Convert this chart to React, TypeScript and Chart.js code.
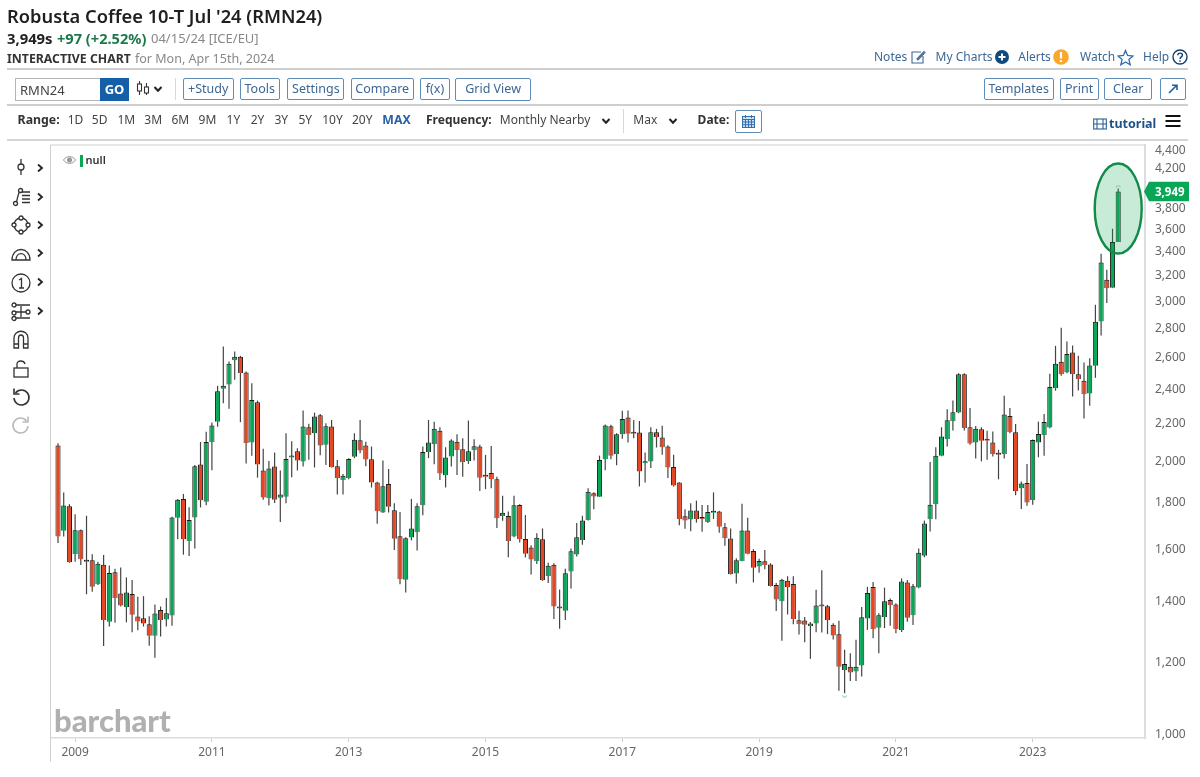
import React, { useEffect, useRef } from 'react';
import { Chart, registerables } from 'chart.js';

Chart.register(...registerables);

// monthly candles, Oct 2008 .. Apr 2024
const opens = [
  2073, 1670, 1778, 1575, 1672, 1551, 1550, 1458, 1532, 1326,
  1503, 1425, 1376, 1423, 1344, 1338, 1318, 1280, 1366, 1334,
  1347, 1726, 1811, 1627, 1728, 1976, 1798, 2092, 2203, 2394,
  2421, 2575, 2597, 2495, 2090, 2314, 1946, 1814, 1966, 1816,
  1821, 2011, 2043, 1991, 2172, 2139, 2239, 2078, 2176, 1967,
  1900, 1908, 2015, 2102, 2073, 2003, 1888, 1749, 1881, 1760,
  1647, 1475, 1642, 1664, 1782, 2040, 2080, 2152, 1923, 2016,
  2094, 2054, 1994, 2049, 2068, 1920, 1934, 1903, 1734, 1734,
  1646, 1783, 1636, 1601, 1546, 1635, 1489, 1532, 1376, 1364,
  1506, 1573, 1632, 1717, 1837, 1821, 2003, 2178, 2028, 2134,
  2226, 2145, 2143, 1982, 1991, 2145, 2116, 2068, 1964, 1888,
  1733, 1719, 1758, 1724, 1708, 1748, 1754, 1685, 1638, 1499,
  1547, 1671, 1587, 1526, 1546, 1533, 1456, 1397, 1471, 1459,
  1331, 1330, 1311, 1320, 1382, 1379, 1316, 1285, 1173, 1183,
  1169, 1187, 1337, 1448, 1306, 1341, 1401, 1385, 1299, 1465,
  1348, 1446, 1568, 1720, 1787, 2021, 2108, 2205, 2254, 2485,
  2172, 2089, 2161, 2101, 2090, 2030, 2028, 2235, 2144, 1860,
  1885, 1805, 2090, 2130, 2170, 2398, 2564, 2495, 2625, 2485,
  2444, 2366, 2538, 2840, 3157, 3093, 3474,
];
const highs = [
  2085, 1840, 1787, 1742, 1676, 1735, 1574, 1544, 1571, 1529,
  1517, 1522, 1484, 1474, 1413, 1415, 1345, 1385, 1378, 1408,
  1731, 1810, 1834, 1773, 1974, 2092, 2147, 2198, 2413, 2666,
  2566, 2632, 2603, 2501, 2429, 2324, 2056, 1994, 2037, 1946,
  2139, 2096, 2059, 2266, 2191, 2254, 2246, 2194, 2212, 1999,
  1929, 2008, 2139, 2212, 2094, 2068, 1892, 1996, 1954, 1791,
  1752, 1643, 1811, 1791, 2068, 2212, 2203, 2172, 2065, 2107,
  2134, 2112, 2209, 2107, 2077, 2025, 2071, 1916, 1825, 1754,
  1825, 1786, 1738, 1610, 1660, 1680, 1540, 1538, 1439, 1517,
  1597, 1703, 1735, 1861, 1842, 2021, 2187, 2185, 2139, 2264,
  2266, 2212, 2207, 2037, 2172, 2163, 2180, 2075, 2025, 1889,
  1764, 1791, 1803, 1783, 1783, 1841, 1757, 1703, 1680, 1558,
  1789, 1726, 1594, 1556, 1591, 1538, 1463, 1479, 1488, 1488,
  1364, 1342, 1325, 1438, 1511, 1384, 1321, 1329, 1235, 1224,
  1267, 1377, 1449, 1467, 1355, 1446, 1407, 1390, 1480, 1474,
  1459, 1597, 1714, 1989, 2065, 2172, 2274, 2324, 2491, 2491,
  2280, 2179, 2172, 2152, 2148, 2051, 2352, 2280, 2190, 1893,
  1979, 2106, 2203, 2246, 2487, 2670, 2796, 2700, 2672, 2603,
  2559, 2588, 2963, 3372, 3238, 3594, 3979,
];
const lows = [
  1619, 1646, 1540, 1544, 1531, 1422, 1431, 1456, 1247, 1310,
  1323, 1378, 1324, 1291, 1298, 1310, 1248, 1210, 1277, 1310,
  1313, 1635, 1572, 1567, 1597, 1772, 1782, 1947, 2174, 2308,
  2276, 2450, 2200, 1981, 2020, 1911, 1807, 1781, 1792, 1708,
  1791, 1913, 1946, 1966, 2000, 1961, 2023, 1974, 1961, 1831,
  1831, 1903, 2008, 2033, 1967, 1864, 1700, 1747, 1749, 1591,
  1458, 1428, 1630, 1589, 1737, 2008, 1977, 1900, 1864, 1966,
  1924, 1916, 1979, 1996, 1847, 1856, 1861, 1682, 1713, 1562,
  1643, 1621, 1561, 1495, 1535, 1471, 1463, 1335, 1303, 1332,
  1443, 1565, 1612, 1714, 1764, 1820, 1947, 2003, 1972, 2109,
  2089, 2112, 1869, 1888, 1959, 2063, 2025, 1910, 1869, 1694,
  1679, 1668, 1705, 1666, 1703, 1721, 1662, 1608, 1495, 1461,
  1546, 1574, 1465, 1502, 1515, 1450, 1363, 1264, 1351, 1318,
  1284, 1259, 1207, 1291, 1290, 1285, 1268, 1113, 1106, 1141,
  1141, 1154, 1299, 1272, 1224, 1305, 1313, 1288, 1292, 1326,
  1315, 1444, 1562, 1667, 1720, 2018, 2068, 2154, 2250, 2154,
  2078, 2006, 1992, 2000, 2016, 1903, 2006, 2139, 1828, 1765,
  1780, 1784, 2013, 2020, 2166, 2383, 2475, 2491, 2348, 2384,
  2220, 2293, 2462, 2741, 2976, 3091, 3474,
];
const closes = [
  1646, 1781, 1542, 1672, 1554, 1544, 1449, 1536, 1331, 1501,
  1408, 1382, 1428, 1350, 1327, 1320, 1280, 1354, 1331, 1355,
  1727, 1807, 1635, 1717, 1967, 1805, 2092, 2181, 2380, 2413,
  2551, 2597, 2493, 2087, 2328, 1976, 1817, 1956, 1807, 1831,
  2004, 2021, 1996, 2176, 2130, 2232, 2073, 2178, 1962, 1910,
  1920, 2004, 2104, 2047, 2001, 1888, 1755, 1870, 1775, 1637,
  1477, 1639, 1680, 1777, 2040, 2089, 2163, 1932, 2011, 2100,
  2049, 1987, 2043, 2070, 1911, 1915, 1903, 1724, 1748, 1627,
  1782, 1635, 1576, 1553, 1641, 1473, 1528, 1378, 1371, 1500,
  1586, 1643, 1714, 1844, 1822, 1999, 2181, 2021, 2134, 2218,
  2137, 2137, 1941, 1992, 2145, 2118, 2065, 1961, 1873, 1721,
  1714, 1758, 1721, 1721, 1752, 1755, 1687, 1639, 1496, 1550,
  1671, 1576, 1521, 1547, 1531, 1452, 1403, 1475, 1447, 1335,
  1318, 1316, 1320, 1382, 1378, 1331, 1281, 1183, 1191, 1166,
  1183, 1341, 1426, 1302, 1348, 1397, 1383, 1302, 1469, 1340,
  1451, 1580, 1701, 1784, 2021, 2122, 2211, 2256, 2485, 2168,
  2084, 2163, 2099, 2099, 2028, 2026, 2243, 2146, 1846, 1883,
  1794, 2103, 2135, 2201, 2405, 2551, 2485, 2616, 2485, 2454,
  2362, 2540, 2838, 3298, 3091, 3474, 3949,
];

const priceTicks = [1000, 1200, 1400, 1600, 1800, 2000, 2200, 2400, 2600, 2800, 3000, 3200, 3400, 3600, 3800, 4200, 4400];
const yearTickIndexes = [3, 27, 51, 75, 99, 123, 147, 171];
const yearTickLabels = ['2009', '2011', '2013', '2015', '2017', '2019', '2021', '2023'];
const lowestIndex = 138;
const lastIndex = closes.length - 1;

const UP = '#08a657';
const DOWN = '#e34724';
const FONT = '"Noto Sans", sans-serif';
const BLUE = '#3c6794';

// ellipse, price tag and the little high/low hooks
const overlayPlugin = {
  id: 'overlay',
  afterDatasetsDraw(chart: any) {
    const { ctx, scales } = chart;
    const x = scales.x.getPixelForValue(lastIndex);
    const yClose = scales.y.getPixelForValue(closes[lastIndex]);
    ctx.save();
    ctx.beginPath();
    ctx.ellipse(x, yClose + 17, 23.5, 45, 0, 0, Math.PI * 2);
    ctx.fillStyle = 'rgba(20, 170, 85, 0.24)';
    ctx.fill();
    ctx.lineWidth = 2.4;
    ctx.strokeStyle = '#128a48';
    ctx.stroke();

    ctx.lineWidth = 0.8;
    ctx.strokeStyle = '#7fb89a';
    ctx.beginPath();
    ctx.arc(x, scales.y.getPixelForValue(highs[lastIndex]) - 1, 2, Math.PI, 0);
    ctx.stroke();
    ctx.strokeStyle = '#5cc08c';
    ctx.beginPath();
    ctx.arc(scales.x.getPixelForValue(lowestIndex), scales.y.getPixelForValue(lows[lowestIndex]) + 2, 2, 0, Math.PI);
    ctx.stroke();

    // price tag sits on the axis
    ctx.fillStyle = '#0aa658';
    ctx.beginPath();
    ctx.moveTo(1144, yClose);
    ctx.lineTo(1149, yClose - 9.8);
    ctx.lineTo(1189, yClose - 9.8);
    ctx.lineTo(1189, yClose + 9.8);
    ctx.lineTo(1149, yClose + 9.8);
    ctx.closePath();
    ctx.fill();
    ctx.fillStyle = '#fff';
    ctx.font = `bold 11.5px ${FONT}`;
    ctx.textAlign = 'left';
    ctx.textBaseline = 'middle';
    ctx.fillText(closes[lastIndex].toLocaleString('en-US'), 1155, yClose + 1);

    // left border runs on below the x axis
    ctx.strokeStyle = '#cfcfcf';
    ctx.lineWidth = 1;
    ctx.beginPath();
    ctx.moveTo(50.5, 145);
    ctx.lineTo(50.5, 762);
    ctx.moveTo(50.5, 145);
    ctx.lineTo(1145, 145);
    ctx.stroke();
    ctx.restore();
  },
};

const CandleChart = () => {
  const canvasRef = useRef<HTMLCanvasElement>(null);

  useEffect(() => {
    if (!canvasRef.current) return;
    const chart = new Chart(canvasRef.current, {
      type: 'bar',
      data: {
        datasets: [
          {
            label: 'body',
            order: 1,
            grouped: false,
            data: opens.map((o, i) => ({ x: i, y: [o, closes[i]] })),
            backgroundColor: opens.map((o, i) => (closes[i] >= o ? UP : DOWN)),
            borderColor: '#1c1c1c',
            borderWidth: 1,
            barPercentage: 1,
            categoryPercentage: 0.9,
            minBarLength: 2,
          },
          {
            label: 'wick',
            order: 2,
            grouped: false,
            data: lows.map((l, i) => ({ x: i, y: [l, highs[i]] })),
            backgroundColor: '#444444',
            borderWidth: 0,
            maxBarThickness: 1.2,
          },
        ] as any,
      },
      options: {
        responsive: false,
        animation: false,
        events: [],
        layout: { padding: { left: 51, top: 145, right: 0, bottom: 0 } },
        plugins: { legend: { display: false }, tooltip: { enabled: false } },
        scales: {
          x: {
            type: 'linear',
            offset: false,
            min: -1.23,
            max: 190.7,
            afterBuildTicks: (scale: any) => {
              scale.ticks = yearTickIndexes.map((value) => ({ value }));
            },
            afterFit: (scale: any) => {
              scale.height = 39;
            },
            grid: { offset: false, drawOnChartArea: false, drawTicks: true, tickLength: 4, color: '#cccccc' },
            border: { color: '#dddddd', width: 1.5 },
            ticks: {
              autoSkip: false,
              maxRotation: 0,
              padding: 3,
              color: '#666666',
              font: { family: 'Noto Sans', size: 12 },
              callback: (value: any) => yearTickLabels[yearTickIndexes.indexOf(value)],
            },
          },
          y: {
            type: 'logarithmic',
            position: 'right',
            min: 987.4,
            max: 4444,
            afterBuildTicks: (scale: any) => {
              scale.ticks = priceTicks.map((value) => ({ value }));
            },
            afterFit: (scale: any) => {
              scale.width = 55;
            },
            grid: { display: false, drawTicks: false },
            border: { display: true, color: '#dddddd', width: 2 },
            ticks: {
              autoSkip: false,
              padding: 10,
              labelOffset: 1.5,
              color: '#666666',
              font: { family: 'Noto Sans', size: 12 },
              callback: (value: any) => Number(value).toLocaleString('en-US'),
            },
          },
        },
      } as any,
      plugins: [overlayPlugin],
    });
    return () => chart.destroy();
  }, []);

  return <canvas ref={canvasRef} width={1200} height={777} style={{ position: 'absolute', left: 0, top: 0 }} />;
};

const Txt = ({ x, y, size = 12, color = '#444', bold = false, weight, children }: any) => (
  <span
    style={{
      position: 'absolute',
      left: x,
      top: y - 12,
      lineHeight: '24px',
      fontSize: size,
      color,
      fontWeight: weight ?? (bold ? 700 : 400),
      whiteSpace: 'nowrap',
    }}
  >
    {children}
  </span>
);

const Btn = ({ x, right, children, top = 78, h = 22 }: any) => (
  <div
    style={{
      position: 'absolute',
      left: x,
      top,
      width: right - x,
      height: h,
      boxSizing: 'border-box',
      border: '1.5px solid #5f8db5',
      borderRadius: 2,
      color: BLUE,
      fontSize: 12.5,
      lineHeight: `${h - 2}px`,
      textAlign: 'center',
      whiteSpace: 'nowrap',
    }}
  >
    {children}
  </div>
);

const Rule = ({ y, x = 7, right = 1188, color = '#cfcfcf' }: any) => (
  <div style={{ position: 'absolute', left: x, top: y, width: right - x, height: 1.5, background: color }} />
);

const Icon = ({ x, y, w = 20, h = 20, children, stroke = '#333', sw = 1.3 }: any) => (
  <svg
    width={w}
    height={h}
    viewBox={`0 0 ${w} ${h}`}
    fill="none"
    stroke={stroke}
    strokeWidth={sw}
    style={{ position: 'absolute', left: x - w / 2, top: y - h / 2 }}
  >
    {children}
  </svg>
);

const Chevron = ({ x, y }: any) => (
  <Icon x={x} y={y} w={10} h={10} stroke="#222" sw={2}>
    <path d="M1.5 3 L5 6.8 L8.5 3" />
  </Icon>
);

const ChevronRight = ({ x, y }: any) => (
  <Icon x={x} y={y} w={10} h={10} stroke="#222" sw={1.8}>
    <path d="M3 1.5 L7 5 L3 8.5" />
  </Icon>
);

const rangeItems: [string, number][] = [
  ['1D', 67.7], ['5D', 91.8], ['1M', 117.5], ['3M', 144.3], ['6M', 171.4], ['9M', 198.6], ['1Y', 226.6],
  ['2Y', 250.7], ['3Y', 274.4], ['5Y', 298.5], ['10Y', 322.2], ['20Y', 352],
];

const TopBars = () => (
  <>
    <Txt x={7} y={16} size={18.3} color="#1f1f1f" weight={600}>Robusta Coffee 10-T Jul '24 (RMN24)</Txt>
    <Txt x={7} y={38} size={14.8} color="#222" bold>3,949s</Txt>
    <Txt x={57} y={38} size={14.6} color="#1c7a4a" bold>+97 (+2.52%)</Txt>
    <Txt x={151} y={38} size={13} color="#888">04/15/24 [ICE/EU]</Txt>
    <Txt x={7} y={59} size={12.3} color="#333" bold>INTERACTIVE CHART</Txt>
    <Txt x={135} y={59} size={12.5} color="#888">for Mon, Apr 15th, 2024</Txt>

    <Txt x={874} y={57} color={BLUE}>Notes</Txt>
    <Icon x={918} y={57} w={16} h={16} stroke={BLUE} sw={1.1}>
      <path d="M11 3 H2 V14 H13 V7 M7 10 L14 2.5 L15 3.5 L8 11 Z" />
    </Icon>
    <Txt x={935.6} y={57} color={BLUE}>My Charts</Txt>
    <Icon x={1002} y={57} w={14} h={14} stroke="none">
      <circle cx="7" cy="7" r="7" fill="#0d4a80" />
      <path d="M3.5 7 H10.5 M7 3.5 V10.5" stroke="#fff" strokeWidth="2" />
    </Icon>
    <Txt x={1018.3} y={57} color={BLUE}>Alerts</Txt>
    <Icon x={1061} y={57} w={16} h={16} stroke="none">
      <circle cx="8" cy="8" r="7.8" fill="#f8a82a" />
      <path d="M8 3 V9.5 M8 11.2 V13" stroke="#fff" strokeWidth="2.2" />
    </Icon>
    <Txt x={1080} y={57} color={BLUE}>Watch</Txt>
    <Icon x={1125.5} y={57} w={17} h={17} stroke="#2f6fb0" sw={1.3}>
      <path d="M8.5 1.5 L10.6 6.5 L16 7 L11.9 10.5 L13.2 15.8 L8.5 13 L3.8 15.8 L5.1 10.5 L1 7 L6.4 6.5 Z" />
    </Icon>
    <Txt x={1143} y={57} color={BLUE}>Help</Txt>
    <Icon x={1180} y={57} w={16} h={16} stroke="#123f6e" sw={1.4}>
      <circle cx="8" cy="8" r="7" />
      <path d="M5.8 6.2 C5.8 3.4 10.4 3.4 10.4 6.2 C10.4 8 8 7.8 8 10 M8 11.2 V12.8" />
    </Icon>
    <Rule y={68} />

    <div style={{ position: 'absolute', left: 14.5, top: 78, width: 86, height: 23, boxSizing: 'border-box', border: '1.5px solid #b5b5b5', borderRight: 'none' }} />
    <Txt x={20} y={89.5} size={13} color="#444">RMN24</Txt>
    <div style={{ position: 'absolute', left: 100, top: 78, width: 29, height: 23, background: '#155fa8', color: '#fff', fontWeight: 700, fontSize: 13, lineHeight: '23px', textAlign: 'center' }}>GO</div>
    <Icon x={143.5} y={88} w={16} h={16} stroke="#333" sw={1.1}>
      <path d="M3.5 1 V15 M10.5 3 V15" />
      <rect x="1.5" y="4" width="4" height="7" fill="#fff" />
      <rect x="8.5" y="7" width="4" height="6" fill="#fff" />
    </Icon>
    <Chevron x={158} y={89} />
    <div style={{ position: 'absolute', left: 175, top: 78, width: 1, height: 22, background: '#d8d8d8' }} />

    <Btn x={183} right={233.5}>+Study</Btn>
    <Btn x={239.5} right={280}>Tools</Btn>
    <Btn x={287.4} right={344.4}>Settings</Btn>
    <Btn x={350.5} right={414}>Compare</Btn>
    <Btn x={420} right={450}>f(x)</Btn>
    <Btn x={455.4} right={530.8} h={22.5}>Grid View</Btn>
    <Btn x={984} right={1053.5}>Templates</Btn>
    <Btn x={1059.6} right={1098.6}>Print</Btn>
    <Btn x={1104.4} right={1152.2}>Clear</Btn>
    <div style={{ position: 'absolute', left: 1160, top: 78, width: 25.5, height: 22, boxSizing: 'border-box', border: '1.5px solid #5f8db5', borderRadius: 2 }} />
    <Icon x={1172.5} y={89} w={12} h={12} stroke="#1c5f9e" sw={1.6}>
      <path d="M2 10 L9.5 2.5 M5 2.2 H10 V7" />
    </Icon>
    <Rule y={104} />

    <Txt x={17.6} y={120} size={12.3} color="#333" bold>Range:</Txt>
    {rangeItems.map(([label, x]) => (
      <Txt key={label} x={x} y={120} color="#444">{label}</Txt>
    ))}
    <Txt x={382.3} y={120} size={12.3} color="#2a62a8" bold>MAX</Txt>
    <Txt x={426} y={120} size={12} color="#333" bold>Frequency:</Txt>
    <Txt x={499.8} y={120} size={12} color="#444">Monthly Nearby</Txt>
    <Chevron x={606} y={121} />
    <div style={{ position: 'absolute', left: 623, top: 109, width: 1, height: 24, background: '#d8d8d8' }} />
    <Txt x={633.3} y={120} color="#444">Max</Txt>
    <Chevron x={673} y={121} />
    <Txt x={697.6} y={120} color="#333" bold>Date:</Txt>
    <div style={{ position: 'absolute', left: 735, top: 110, width: 26.5, height: 23, boxSizing: 'border-box', border: '1.5px solid #5f8db5', borderRadius: 2 }} />
    <Icon x={748.2} y={121.5} w={15} h={15} stroke="#2f6fb0" sw={1}>
      <rect x="1.5" y="2.5" width="12" height="11" fill="#cfe0f2" />
      <path d="M1.5 5.5 H13.5 M1.5 8 H13.5 M1.5 10.7 H13.5 M4.5 5.5 V13.5 M7.5 5.5 V13.5 M10.5 5.5 V13.5 M4.5 1 V4 M10.5 1 V4" />
    </Icon>
    <Icon x={1099.5} y={123.5} w={14} h={12} stroke="#2c5f92" sw={1.1}>
      <rect x="0.7" y="1" width="12.6" height="10" />
      <path d="M4 1 V11 M10 1 V11 M0.7 6 H13.3" />
    </Icon>
    <Txt x={1109} y={123.5} size={12.5} color="#1f5288" bold>tutorial</Txt>
    <Icon x={1172.5} y={120.5} w={16} h={14} stroke="#111" sw={2}>
      <path d="M0.5 2 H15.5 M0.5 7 H15.5 M0.5 12 H15.5" />
    </Icon>
    <Rule y={139} color="#d5d5d5" />
  </>
);

const SideTools = () => (
  <>
    <Icon x={21} y={167}><path d="M10 2 V18" /><circle cx="10" cy="10" r="3" fill="#fff" /></Icon>
    <ChevronRight x={40} y={168} />
    <Icon x={21} y={197}>
      <path d="M5 16 C7 12 6 8 9 4" /><circle cx="4.5" cy="16.5" r="2" fill="#fff" /><circle cx="9.5" cy="3.5" r="2" fill="#fff" />
      <path d="M11 5 H19 M11 8.5 H19 M11 12 H19 M11 15.5 H19" />
    </Icon>
    <ChevronRight x={40} y={197} />
    <Icon x={21} y={225}>
      <circle cx="10" cy="10" r="7" />
      <circle cx="10" cy="3" r="2" fill="#fff" /><circle cx="10" cy="17" r="2" fill="#fff" />
      <circle cx="3" cy="10" r="2" fill="#fff" /><circle cx="17" cy="10" r="2" fill="#fff" />
    </Icon>
    <ChevronRight x={40} y={225} />
    <Icon x={21} y={254}>
      <path d="M1 16 C1 2 19 2 19 16 Z" /><path d="M5 16 C5 7.5 15 7.5 15 16" />
    </Icon>
    <ChevronRight x={40} y={253} />
    <Icon x={21} y={283}><circle cx="10" cy="10" r="9" /><path d="M8 7 L10.5 5.5 V15 M8 15 H13" /></Icon>
    <ChevronRight x={40} y={282} />
    <Icon x={21} y={312}>
      <path d="M1 3 H19 M1 10 H19 M1 16 H19 M10 4 V15" />
      <circle cx="3" cy="3" r="2" fill="#fff" /><circle cx="3" cy="11" r="2" fill="#fff" />
      <circle cx="3" cy="16.5" r="2" fill="#fff" /><circle cx="17" cy="10" r="2" fill="#fff" />
    </Icon>
    <ChevronRight x={40} y={311} />
    <Icon x={21} y={340}>
      <path d="M3 18 V8 C3 -1 17 -1 17 8 V18 H12.5 V8 C12.5 4 7.5 4 7.5 8 V18 Z" /><path d="M3 14 H7.5 M12.5 14 H17" />
    </Icon>
    <Icon x={21} y={369}><rect x="3" y="9" width="14" height="9" /><path d="M6 9 V5 C6 1 13 1 14 5" /></Icon>
    <Icon x={21} y={397} sw={1.6}>
      <path d="M4.5 6 A7.5 7.5 0 1 1 3 11" /><path d="M3 1.5 V7 H8.5" />
    </Icon>
    <Icon x={21} y={425} stroke="#bbbbbb" sw={1.6}>
      <path d="M15.5 6 A7.5 7.5 0 1 0 17 11" /><path d="M17 1.5 V7 H11.5" />
    </Icon>

    <Icon x={69} y={160} w={13} h={10} stroke="#999" sw={1}>
      <path d="M0.5 5 C3 0.5 10 0.5 12.5 5 C10 9.5 3 9.5 0.5 5 Z" />
      <circle cx="6.5" cy="5" r="2.2" fill="#999" />
    </Icon>
    <div style={{ position: 'absolute', left: 79.5, top: 155, width: 3.5, height: 11.5, background: UP }} />
    <Txt x={85.5} y={160} size={11} color="#333" weight={600}>null</Txt>

    <span style={{ position: 'absolute', left: 54, top: 701, lineHeight: '38px', fontSize: 31, fontFamily: 'Lato', fontWeight: 900, color: '#b0b0b0', whiteSpace: 'nowrap' }}>barchart</span>
  </>
);

export default function App() {
  return (
    <div style={{ position: 'fixed', left: 0, top: 0, width: 1200, height: 777, overflow: 'hidden', background: '#fff', fontFamily: FONT }}>
      <CandleChart />
      <TopBars />
      <SideTools />
    </div>
  );
}
